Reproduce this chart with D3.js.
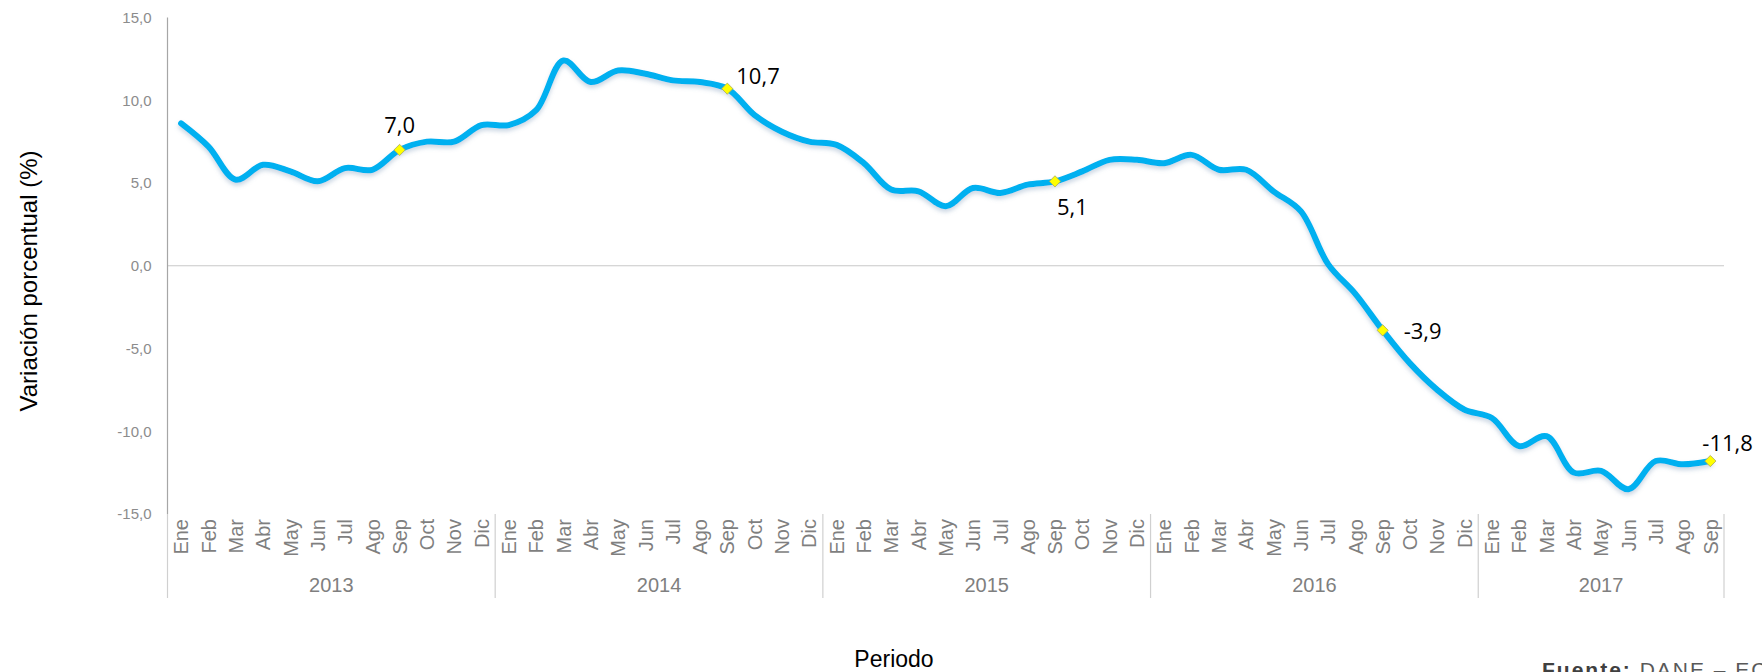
<!DOCTYPE html>
<html>
<head>
<meta charset="utf-8">
<script src="https://cdn.jsdelivr.net/npm/d3@7"></script>
<style>
  body { margin: 0; background: #fff; }
  svg { display: block; }
</style>
</head>
<body>
<div id="chart-container"></div>
<script>
// month names used on the category axis
const months = ["Ene","Feb","Mar","Abr","May","Jun","Jul","Ago","Sep","Oct","Nov","Dic"];
const years = ["2013","2014","2015","2016","2017"];
const monthsPerYear = [12, 12, 12, 12, 9];

// variación porcentual, one value per month (Ene 2013 .. Sep 2017)
const values = [
  8.6, 7.2, 5.2, 6.1, 5.7, 5.1, 5.9, 5.8, 7.0, 7.5, 7.5, 8.5,
  8.5, 9.4, 12.4, 11.1, 11.8, 11.6, 11.2, 11.1, 10.7, 9.1, 8.1, 7.5,
  7.3, 6.2, 4.6, 4.5, 3.6, 4.7, 4.4, 4.9, 5.1, 5.7, 6.4, 6.4,
  6.2, 6.7, 5.8, 5.8, 4.5, 3.3, 0.1, -1.7, -3.9, -5.9, -7.5, -8.7,
  -9.2, -10.9, -10.3, -12.5, -12.4, -13.5, -11.8, -12.0, -11.8
];

// points that carry a marker and a data label
const labelledPoints = [8, 20, 32, 44, 56];
const yTicks = [-15, -10, -5, 0, 5, 10, 15];

document.addEventListener("DOMContentLoaded", function() {
    const width = 1762;
    const height = 672;
    const left = 167.5, right = 1724, top = 17.5, bottom = 514;

    const es = d3.formatLocale({decimal: ",", thousands: ".", grouping: [3], currency: ["", ""], minus: "-"});
    const fmt = es.format(".1f");

    // build the month lookup for each point
    const monthIdx = [];
    monthsPerYear.forEach(n => {
        for (let m = 0; m < n; m++) monthIdx.push(m);
    });

    const x = d3.scaleBand()
        .domain(d3.range(values.length))
        .range([left, right]);

    const y = d3.scaleLinear()
        .domain([-15, 15])
        .range([bottom, top]);

    const svg = d3.select("#chart-container").append("svg")
        .attr("width", width)
        .attr("height", height);

    const defs = svg.append("defs");
    const shadow = defs.append("filter")
        .attr("id", "shadow")
        .attr("x", "-5%").attr("y", "-20%")
        .attr("width", "110%").attr("height", "140%");
    shadow.append("feDropShadow")
        .attr("dx", 0).attr("dy", 3)
        .attr("stdDeviation", 2)
        .attr("flood-color", "#6f8fb0")
        .attr("flood-opacity", 0.35);

    // zero line
    svg.append("line")
        .attr("x1", left).attr("x2", right)
        .attr("y1", y(0)).attr("y2", y(0))
        .attr("stroke", "#c8c8c8")
        .attr("stroke-width", 1.2);

    // value axis
    const yAxis = svg.append("g")
        .attr("transform", `translate(${left},0)`)
        .call(d3.axisLeft(y).tickValues(yTicks).tickSize(0).tickPadding(16).tickFormat(fmt));
    yAxis.select(".domain").remove();
    yAxis.selectAll("text")
        .attr("fill", "#8c8c8c")
        .style("font-family", "'Liberation Sans', Arial, sans-serif")
        .style("font-size", "15px");

    svg.append("line")
        .attr("x1", left).attr("x2", left)
        .attr("y1", top).attr("y2", bottom)
        .attr("stroke", "#a6a6a6")
        .attr("stroke-width", 1.2);

    // month labels
    const xAxis = svg.append("g")
        .attr("transform", `translate(0,${bottom})`)
        .call(d3.axisBottom(x).tickSize(0).tickFormat(i => months[monthIdx[i]]));
    xAxis.select(".domain").remove();
    xAxis.selectAll("text")
        .attr("transform", "rotate(-90)")
        .attr("x", -5)
        .attr("y", 0)
        .attr("dy", "0.36em")
        .style("text-anchor", "end")
        .attr("fill", "#7f7f7f")
        .style("font-family", "'Liberation Sans', Arial, sans-serif")
        .style("font-size", "20px");

    // year groups: separators and labels
    let start = 0;
    const groups = monthsPerYear.map((n, i) => {
        const g = {year: years[i], first: start, last: start + n - 1};
        start += n;
        return g;
    });
    const sepX = [left].concat(groups.map(g => x(g.last) + x.bandwidth()));
    svg.selectAll(".sep")
        .data(sepX)
        .enter().append("line")
        .attr("class", "sep")
        .attr("x1", d => d).attr("x2", d => d)
        .attr("y1", bottom).attr("y2", 598)
        .attr("stroke", "#d0d0d0")
        .attr("stroke-width", 1.2);

    svg.selectAll(".year")
        .data(groups)
        .enter().append("text")
        .attr("class", "year")
        .attr("x", d => (x(d.first) + x(d.last) + x.bandwidth()) / 2)
        .attr("y", 585)
        .attr("dy", "0.35em")
        .attr("text-anchor", "middle")
        .attr("fill", "#7f7f7f")
        .style("font-family", "'Liberation Sans', Arial, sans-serif")
        .style("font-size", "20px")
        .text(d => d.year);

    // the series line
    const line = d3.line()
        .x((d, i) => x(i) + x.bandwidth() / 2)
        .y(d => y(d))
        .curve(d3.curveCatmullRom.alpha(0.5));

    svg.append("path")
        .datum(values)
        .attr("fill", "none")
        .attr("stroke", "#00b0f0")
        .attr("stroke-width", 6)
        .attr("stroke-linejoin", "round")
        .attr("stroke-linecap", "round")
        .attr("filter", "url(#shadow)")
        .attr("d", line);

    // markers
    const cx = i => x(i) + x.bandwidth() / 2;
    svg.selectAll(".marker")
        .data(labelledPoints)
        .enter().append("path")
        .attr("class", "marker")
        .attr("d", d3.symbol().type(d3.symbolDiamond2).size(80))
        .attr("transform", i => `translate(${cx(i)},${y(values[i])})`)
        .attr("fill", "#ffff00")
        .attr("stroke", "#a8a860")
        .attr("stroke-width", 0.8);

    // label placement relative to its marker
    const labelPlacement = {
        8:  {dx: 0,  dy: -25, anchor: "middle"},
        20: {dx: 9,  dy: -12, anchor: "start"},
        32: {dx: 2,  dy: 26,  anchor: "start"},
        44: {dx: 21, dy: 1,   anchor: "start"},
        56: {dx: -8, dy: -18, anchor: "start"}
    };

    svg.selectAll(".dlabel")
        .data(labelledPoints)
        .enter().append("text")
        .attr("class", "dlabel")
        .attr("x", i => cx(i) + labelPlacement[i].dx)
        .attr("y", i => y(values[i]) + labelPlacement[i].dy)
        .attr("dy", "0.35em")
        .attr("text-anchor", i => labelPlacement[i].anchor)
        .attr("fill", "#000")
        .style("font-family", "'Open Sans', 'Noto Sans', sans-serif")
        .style("font-size", "22px")
        .text(i => fmt(values[i]));

    // axis titles
    svg.append("text")
        .attr("transform", "translate(29,281) rotate(-90)")
        .attr("dy", "0.35em")
        .attr("text-anchor", "middle")
        .attr("fill", "#000")
        .style("font-family", "'Liberation Sans', Arial, sans-serif")
        .style("font-size", "24px")
        .text("Variación porcentual (%)");

    svg.append("text")
        .attr("x", 894)
        .attr("y", 667)
        .attr("text-anchor", "middle")
        .attr("fill", "#000")
        .style("font-family", "'Liberation Sans', Arial, sans-serif")
        .style("font-size", "23px")
        .text("Periodo");

    // source note, cut by the page edge as in the original
    const src = svg.append("text")
        .attr("x", 1542)
        .attr("y", 677)
        .attr("fill", "#404040")
        .style("font-family", "'Liberation Sans', Arial, sans-serif")
        .style("font-size", "21px")
        .style("letter-spacing", "2px");
    src.append("tspan").style("font-weight", "bold").text("Fuente:");
    src.append("tspan").attr("fill", "#595959").text(" DANE – ECG");
});
</script>
</body>
</html>
